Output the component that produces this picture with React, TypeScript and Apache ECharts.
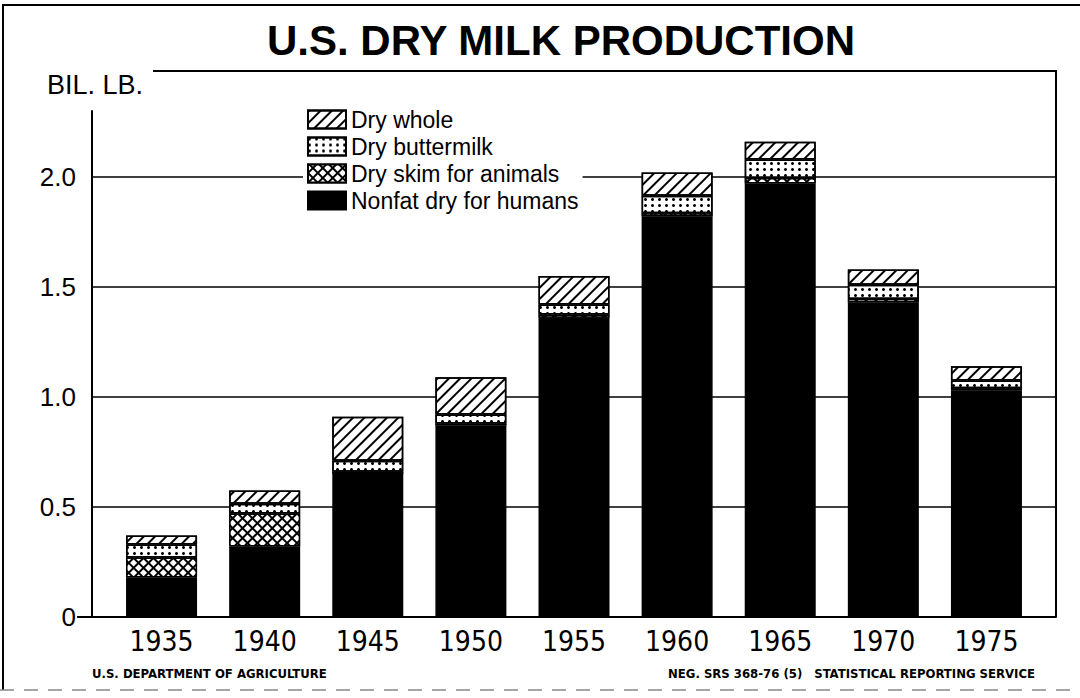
import React, { useEffect, useRef } from 'react';
import * as echarts from 'echarts';

const years = ['1935', '1940', '1945', '1950', '1955', '1960', '1965', '1970', '1975'];
const nonfatHumans = [0.18, 0.32, 0.65, 0.87, 1.36, 1.82, 1.97, 1.43, 1.03];
const skimAnimals = [0.09, 0.15, 0.01, 0.01, 0.015, 0.015, 0.025, 0.015, 0.01];
const dryButtermilk = [0.06, 0.045, 0.05, 0.04, 0.045, 0.08, 0.085, 0.065, 0.035];
const dryWhole = [0.04, 0.06, 0.2, 0.17, 0.13, 0.105, 0.08, 0.07, 0.065];
const legendOrder = ['Dry whole', 'Dry buttermilk', 'Dry skim for animals', 'Nonfat dry for humans'];

const FONT = "'Liberation Sans', Arial, Helvetica, sans-serif";
const NARROW = "'Liberation Sans Narrow', 'Arial Narrow', 'DejaVu Sans Condensed', 'Liberation Sans', sans-serif";

const Y_MAX = 2.3;

export default function App() {
  const ref = useRef<HTMLDivElement>(null);
  useEffect(() => {
    if (!ref.current) return;
    const chart = echarts.init(ref.current, null, { renderer: 'svg' });
    const border = { borderColor: '#000', borderWidth: 1.5 };
    const option: any = {
      animation: false,
      backgroundColor: '#fff',
      title: {
        text: 'U.S. DRY MILK PRODUCTION',
        left: 561,
        top: 19,
        padding: 0,
        textAlign: 'center',
        textStyle: { fontFamily: FONT, fontSize: 42, fontWeight: 'bold', color: '#000' },
      },
      legend: {
        data: legendOrder,
        orient: 'vertical',
        left: 303,
        top: 106,
        padding: [2, 4],
        backgroundColor: '#fff',
        itemWidth: 38,
        itemHeight: 18,
        itemGap: 4,
        icon: 'rect',
        textStyle: { fontFamily: FONT, fontSize: 23, color: '#000' },
      },
      grid: [
        { left: 92, right: 24, top: 111, bottom: 81 },
        { left: 110, right: 42, top: 111, bottom: 81 },
      ],
      xAxis: [
        {
          gridIndex: 0,
          type: 'category',
          data: years,
          axisLine: { show: true, lineStyle: { color: '#000', width: 2 } },
          axisTick: { show: false },
          axisLabel: { show: false },
        },
        {
          gridIndex: 1,
          type: 'category',
          data: years,
          axisLine: { show: false },
          axisTick: { show: false },
          axisLabel: { fontFamily: NARROW, fontSize: 28, color: '#000', margin: 10 },
        },
      ],
      yAxis: [
        {
          gridIndex: 0,
          type: 'value',
          min: 0,
          max: Y_MAX,
          interval: 0.5,
          axisLine: { show: true, lineStyle: { color: '#000', width: 2 } },
          axisTick: { show: false },
          splitLine: { show: true, showMaxLine: false, lineStyle: { color: '#000', width: 1.5 } },
          axisLabel: {
            showMaxLabel: false,
            fontFamily: FONT,
            fontSize: 26,
            color: '#000',
            margin: 16,
            formatter: (v: number) => (v === 0 ? '0' : v.toFixed(1)),
          },
        },
        {
          gridIndex: 1,
          type: 'value',
          min: 0,
          max: Y_MAX,
          show: false,
          splitLine: { show: false },
        },
      ],
      series: [
        {
          name: 'Nonfat dry for humans',
          type: 'bar',
          stack: 'milk',
          xAxisIndex: 1,
          yAxisIndex: 1,
          barWidth: 71,
          data: nonfatHumans,
          itemStyle: { color: '#000', ...border },
        },
        {
          name: 'Dry skim for animals',
          type: 'bar',
          stack: 'milk',
          xAxisIndex: 1,
          yAxisIndex: 1,
          data: skimAnimals,
          itemStyle: {
            color: '#000',
            ...border,
            decal: {
              symbol: 'rect',
              symbolSize: 1,
              color: '#fff',
              backgroundColor: '#000',
              dashArrayX: [5, 2],
              dashArrayY: [5, 2],
              rotation: Math.PI / 4,
            },
          },
        },
        {
          name: 'Dry buttermilk',
          type: 'bar',
          stack: 'milk',
          xAxisIndex: 1,
          yAxisIndex: 1,
          data: dryButtermilk,
          itemStyle: {
            color: '#fff',
            ...border,
            decal: {
              symbol: 'circle',
              symbolSize: 1,
              color: '#000',
              backgroundColor: '#fff',
              dashArrayX: [2.5, 4],
              dashArrayY: [2.5, 3],
            },
          },
        },
        {
          name: 'Dry whole',
          type: 'bar',
          stack: 'milk',
          xAxisIndex: 1,
          yAxisIndex: 1,
          data: dryWhole,
          itemStyle: {
            color: '#fff',
            ...border,
            decal: {
              symbol: 'rect',
              symbolSize: 1,
              color: '#000',
              backgroundColor: '#fff',
              dashArrayX: [1, 0],
              dashArrayY: [2, 6],
              rotation: -Math.PI / 4,
            },
          },
        },
      ],
      graphic: [
        {
          type: 'polyline',
          shape: { points: [[153, 71], [1056, 71], [1056, 617]] },
          style: { stroke: '#000', lineWidth: 2, fill: null },
          z: 10,
        },
        {
          type: 'line',
          shape: { x1: 77, y1: 617, x2: 92, y2: 617 },
          style: { stroke: '#000', lineWidth: 2 },
          z: 10,
        },
        {
          type: 'polyline',
          shape: { points: [[3, 690], [3, 5], [1080, 5]] },
          style: { stroke: '#000', lineWidth: 2, fill: null },
          z: 10,
        },
        {
          type: 'line',
          shape: { x1: 0, y1: 690, x2: 1080, y2: 690 },
          style: { stroke: '#888', lineWidth: 1.5, lineDash: [14, 10] },
          z: 10,
        },
        {
          type: 'text',
          x: 47,
          y: 85,
          style: { text: 'BIL. LB.', fontFamily: FONT, fontSize: 27, fill: '#000', verticalAlign: 'middle' },
          z: 10,
        },
        {
          type: 'text',
          x: 92,
          y: 673,
          style: { text: 'U.S. DEPARTMENT OF AGRICULTURE', fontFamily: NARROW, fontSize: 13, fontWeight: 'bold', fill: '#000', verticalAlign: 'middle' },
          z: 10,
        },
        {
          type: 'text',
          x: 668,
          y: 673,
          style: { text: 'NEG. SRS 368-76 (5)', fontFamily: NARROW, fontSize: 13, fontWeight: 'bold', fill: '#000', verticalAlign: 'middle' },
          z: 10,
        },
        {
          type: 'text',
          x: 1035,
          y: 673,
          style: { text: 'STATISTICAL REPORTING SERVICE', fontFamily: NARROW, fontSize: 13, fontWeight: 'bold', fill: '#000', align: 'right', verticalAlign: 'middle' },
          z: 10,
        },
      ],
    };
    chart.setOption(option);
    return () => chart.dispose();
  }, []);
  return <div ref={ref} style={{ position: 'fixed', left: 0, top: 0, width: 1080, height: 698, background: '#fff' }} />;
}
